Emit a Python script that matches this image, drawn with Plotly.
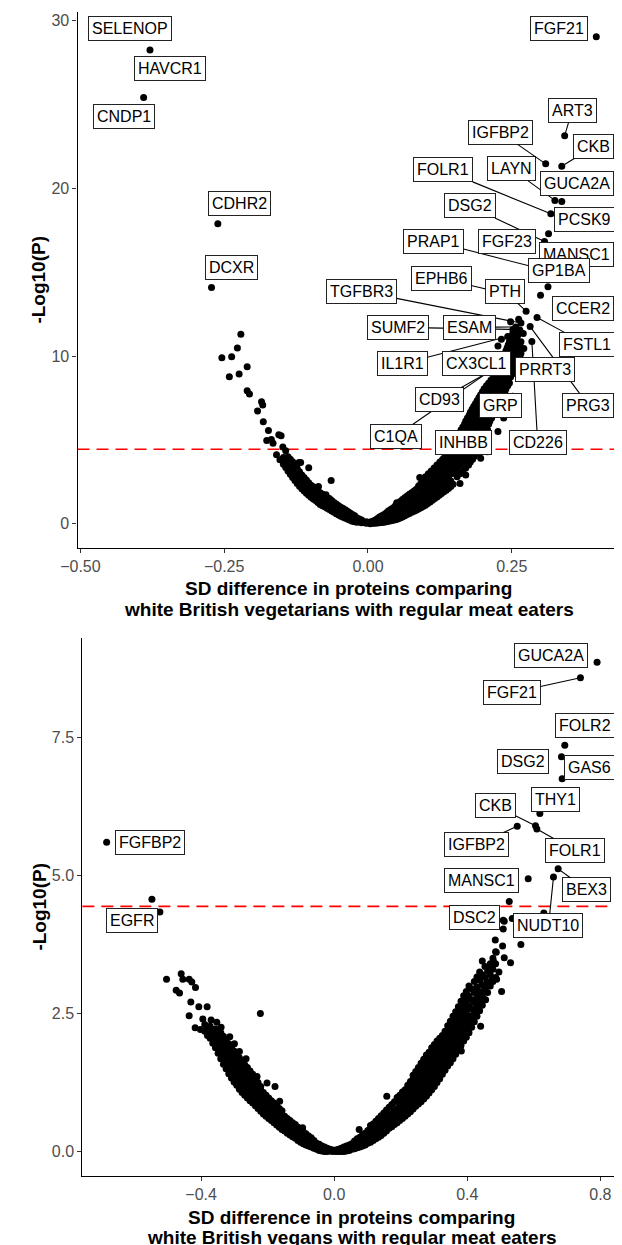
import plotly.graph_objects as go

FONT = "Liberation Sans, Arial, Helvetica, sans-serif"
THRESH = 4.44

# ---------------- TOP PANEL: vegetarians vs regular meat eaters ----------------
# dense band, left arm: column x -> list of -log10(P)
top_left_cols_x = [-0.003, -0.011, -0.019, -0.027, -0.035, -0.043, -0.051, -0.059, -0.067,
                   -0.075, -0.083, -0.091, -0.099, -0.107, -0.115, -0.123, -0.131, -0.139, -0.147]
top_left_cols_y = [[0.02, 0.12], [0.05, 0.22], [0.09, 0.34], [0.15, 0.35, 0.55],
                   [0.27, 0.5, 0.73], [0.38, 0.64, 0.9], [0.52, 0.8, 1.07], [0.68, 0.98, 1.27],
                   [0.85, 1.17, 1.5], [1.0, 1.33, 1.65], [1.15, 1.5, 1.85], [1.38, 1.74, 2.1],
                   [1.58, 1.94, 2.3], [1.82, 2.2, 2.6], [2.08, 2.5, 2.9], [2.4, 2.85, 3.3],
                   [2.75, 3.2, 3.7], [3.15, 3.6, 4.0], [3.55, 3.95]]
top_left_cols2_x = [-0.007, -0.015, -0.023, -0.031, -0.039, -0.047, -0.055, -0.063, -0.071,
                    -0.079, -0.087, -0.095, -0.103, -0.111, -0.119, -0.127, -0.135, -0.143]
top_left_cols2_y = [[0.07], [0.12, 0.28], [0.12, 0.3, 0.48], [0.21, 0.42, 0.64],
                    [0.33, 0.57, 0.81], [0.45, 0.72, 0.98], [0.6, 0.89, 1.17], [0.76, 1.07, 1.38],
                    [0.92, 1.25, 1.57], [1.07, 1.41, 1.75], [1.26, 1.62, 1.97], [1.48, 1.84, 2.2],
                    [1.7, 2.07, 2.45], [1.95, 2.35, 2.75], [2.24, 2.67, 3.1], [2.58, 3.02, 3.5],
                    [2.95, 3.4, 3.85], [3.35, 3.78]]
# dense band, right arm (lower part by columns)
top_right_cols_x = [0.004, 0.012, 0.02, 0.028, 0.036, 0.044, 0.052, 0.06, 0.068, 0.076,
                    0.084, 0.092, 0.1, 0.108, 0.116, 0.124, 0.132, 0.14, 0.148]
top_right_cols_y = [[0.0, 0.1], [0.03, 0.2], [0.06, 0.25, 0.4], [0.09, 0.3, 0.55],
                    [0.14, 0.45, 0.77], [0.2, 0.55, 0.95], [0.28, 0.62, 0.96, 1.2],
                    [0.4, 0.75, 1.1, 1.45], [0.55, 0.9, 1.25, 1.65], [0.68, 1.05, 1.45, 1.85],
                    [0.8, 1.2, 1.6, 2.05], [0.95, 1.35, 1.75, 2.15, 2.4], [1.1, 1.5, 1.9, 2.3, 2.65],
                    [1.3, 1.7, 2.1, 2.5], [1.5, 1.9, 2.3, 2.7], [1.7, 2.05, 2.45], [1.9, 2.25, 2.6],
                    [2.1, 2.45], [2.35]]
top_right_cols2_x = [0.008, 0.016, 0.024, 0.032, 0.04, 0.048, 0.056, 0.064, 0.072, 0.08,
                     0.088, 0.096, 0.104, 0.112, 0.12, 0.128, 0.136, 0.144]
top_right_cols2_y = [[0.02, 0.15], [0.04, 0.22, 0.3], [0.07, 0.28, 0.47], [0.11, 0.37, 0.66],
                     [0.17, 0.5, 0.86], [0.24, 0.58, 0.96, 1.08], [0.34, 0.68, 1.03, 1.32],
                     [0.47, 0.82, 1.17, 1.55], [0.61, 0.97, 1.35, 1.76], [0.74, 1.12, 1.52, 1.95],
                     [0.88, 1.27, 1.67, 2.1, 2.25], [1.02, 1.42, 1.82, 2.22, 2.52],
                     [1.2, 1.6, 2.0, 2.4, 2.75], [1.4, 1.8, 2.2, 2.6], [1.6, 1.97, 2.37, 2.75],
                     [1.8, 2.15, 2.52], [2.0, 2.35, 2.65], [2.22, 2.55]]
# dense band, right arm (upper part by rows): row -log10(P) -> list of x
top_right_rows_y = [2.8, 3.15, 3.5, 3.85, 4.2, 4.55, 4.9, 5.25, 5.6, 5.95, 6.3, 6.65, 7.0,
                    7.35, 7.7, 8.05, 8.4, 8.75, 9.1, 9.45, 9.8, 10.15, 10.5, 10.85, 11.2, 11.55]
top_right_rows_x = [[0.10, 0.11, 0.12, 0.13, 0.14, 0.155], [0.11, 0.12, 0.13, 0.14, 0.15, 0.165],
                    [0.12, 0.13, 0.14, 0.15, 0.16, 0.175], [0.13, 0.14, 0.15, 0.16, 0.17, 0.182],
                    [0.138, 0.148, 0.158, 0.168, 0.178, 0.188], [0.143, 0.153, 0.163, 0.173, 0.183, 0.193],
                    [0.15, 0.16, 0.17, 0.18, 0.19, 0.198], [0.156, 0.166, 0.176, 0.186, 0.196, 0.203],
                    [0.162, 0.172, 0.182, 0.192, 0.202, 0.208], [0.168, 0.178, 0.188, 0.198, 0.21],
                    [0.173, 0.183, 0.193, 0.203, 0.215], [0.178, 0.188, 0.198, 0.208, 0.218],
                    [0.184, 0.194, 0.204, 0.214, 0.224], [0.19, 0.2, 0.21, 0.22, 0.23],
                    [0.196, 0.206, 0.216, 0.226, 0.235], [0.202, 0.212, 0.222, 0.232, 0.24],
                    [0.21, 0.22, 0.23, 0.24, 0.246], [0.218, 0.228, 0.238, 0.248],
                    [0.224, 0.234, 0.244, 0.254], [0.23, 0.24, 0.25, 0.258],
                    [0.235, 0.245, 0.255, 0.262], [0.238, 0.248, 0.258, 0.266],
                    [0.242, 0.252, 0.262], [0.246, 0.256, 0.266], [0.25, 0.26], [0.254, 0.264]]
top_right_rows2_y = [2.975, 3.325, 3.675, 4.025, 4.375, 4.725, 5.075, 5.425, 5.775, 6.125, 6.475,
                     6.825, 7.175, 7.525, 7.875, 8.225, 8.575, 8.925, 9.275, 9.625, 9.975,
                     10.325, 10.675, 11.025, 11.375]
top_right_rows2_x = [[0.105, 0.115, 0.125, 0.135, 0.145, 0.16], [0.115, 0.125, 0.135, 0.145, 0.155, 0.17],
                     [0.125, 0.135, 0.145, 0.155, 0.165, 0.178], [0.134, 0.144, 0.154, 0.164, 0.174, 0.185],
                     [0.14, 0.15, 0.16, 0.17, 0.18, 0.19], [0.147, 0.157, 0.167, 0.177, 0.187, 0.196],
                     [0.153, 0.163, 0.173, 0.183, 0.193, 0.2], [0.159, 0.169, 0.179, 0.189, 0.199, 0.206],
                     [0.165, 0.175, 0.185, 0.195, 0.205], [0.17, 0.18, 0.19, 0.2, 0.212],
                     [0.176, 0.186, 0.196, 0.206, 0.216], [0.181, 0.191, 0.201, 0.211, 0.221],
                     [0.187, 0.197, 0.207, 0.217, 0.227], [0.193, 0.203, 0.213, 0.223, 0.232],
                     [0.199, 0.209, 0.219, 0.229, 0.238], [0.206, 0.216, 0.226, 0.236, 0.243],
                     [0.214, 0.224, 0.234, 0.244], [0.221, 0.231, 0.241, 0.251],
                     [0.227, 0.237, 0.247, 0.256], [0.232, 0.242, 0.252, 0.26],
                     [0.236, 0.246, 0.256, 0.264], [0.24, 0.25, 0.26], [0.244, 0.254, 0.264],
                     [0.248, 0.258], [0.252, 0.262]]
# scattered individual proteins (unlabelled)
top_extra_x = [-0.221, -0.227, -0.254, -0.237, -0.241, -0.224, -0.210, -0.210, -0.206, -0.185,
               -0.183, -0.192, -0.182, -0.173, -0.155, -0.151, -0.176, -0.168, -0.165, -0.148,
               -0.159, -0.153, -0.117, -0.064, -0.143, -0.134, -0.120, -0.103, -0.086, -0.073,
               0.205, 0.212, 0.226, 0.232, 0.262, 0.248, 0.270, 0.272, 0.268, 0.252, 0.236,
               0.226, 0.208, 0.196, 0.170, 0.160, 0.090, 0.050, 0.115]
top_extra_y = [11.31, 10.49, 9.90, 9.96, 8.77, 8.93, 9.36, 7.93, 7.74, 7.28,
               7.08, 6.73, 6.09, 5.56, 5.30, 5.24, 4.96, 5.02, 4.80, 4.57,
               4.11, 3.81, 3.65, 2.58, 4.35, 3.62, 3.65, 3.34, 2.22, 1.73,
               9.2, 9.7, 10.6, 11.0, 12.2, 12.05, 11.35, 9.6, 8.7, 7.6, 6.3,
               5.5, 4.3, 3.9, 2.9, 2.4, 2.75, 1.25, 3.2]
# labelled proteins
top_names = ["SELENOP", "HAVCR1", "CNDP1", "CDHR2", "DCXR", "FGF21", "ART3", "IGFBP2", "CKB",
             "LAYN", "GUCA2A", "FOLR1", "PCSK9", "DSG2", "MANSC1", "PRAP1", "FGF23", "GP1BA",
             "EPHB6", "PTH", "CCER2", "FSTL1", "TGFBR3", "SUMF2", "ESAM", "PRG3", "IL1R1",
             "CD226", "PRRT3", "CX3CL1", "CD93", "C1QA", "GRP", "INHBB"]
top_sd = [-0.455, -0.379, -0.390, -0.261, -0.272, 0.397, 0.342, 0.309, 0.337,
          0.325, 0.337, 0.318, 0.314, 0.307, 0.310, 0.285, 0.295, 0.313,
          0.255, 0.275, 0.300, 0.294, 0.266, 0.252, 0.257, 0.282, 0.243,
          0.285, 0.271, 0.250, 0.233, 0.237, 0.215, 0.236]
top_logp = [29.45, 28.27, 25.43, 17.9, 14.09, 29.05, 23.15, 21.47, 21.33,
            19.29, 19.23, 18.49, 17.30, 16.83, 16.0, 15.34, 15.0, 14.13,
            13.6, 12.68, 13.63, 12.30, 11.97, 11.59, 11.74, 11.76, 11.17,
            10.87, 10.46, 10.1, 9.5, 9.7, 7.3, 7.2]

# ---------------- BOTTOM PANEL: vegans vs regular meat eaters ----------------
bot_left_cols_x = [-0.005, -0.021, -0.037, -0.053, -0.069, -0.085, -0.101, -0.117, -0.133,
                   -0.149, -0.165, -0.181, -0.197, -0.213, -0.229, -0.245, -0.261, -0.277,
                   -0.293, -0.309, -0.325, -0.341, -0.357, -0.373, -0.389]
bot_left_cols_y = [[0.0, 0.03], [0.0, 0.06], [0.01, 0.1], [0.04, 0.15], [0.08, 0.18, 0.25],
                   [0.12, 0.22, 0.32], [0.17, 0.28, 0.4], [0.24, 0.36, 0.49], [0.3, 0.42, 0.56],
                   [0.37, 0.5, 0.64], [0.44, 0.57, 0.72, 0.78], [0.52, 0.65, 0.79, 0.88],
                   [0.6, 0.73, 0.86, 0.97], [0.68, 0.81, 0.94, 1.07],
                   [0.78, 0.9, 1.03, 1.17, 1.25], [0.88, 1.0, 1.13, 1.27, 1.4],
                   [0.97, 1.1, 1.24, 1.38, 1.52], [1.07, 1.2, 1.34, 1.48, 1.62],
                   [1.2, 1.33, 1.47, 1.62, 1.77], [1.33, 1.47, 1.6, 1.74, 1.88],
                   [1.5, 1.63, 1.77, 1.9, 2.02], [1.68, 1.8, 1.93, 2.06, 2.15],
                   [1.88, 2.0, 2.12, 2.22], [2.05, 2.16, 2.27], [2.18, 2.3]]
bot_left_cols2_x = [-0.013, -0.029, -0.045, -0.061, -0.077, -0.093, -0.109, -0.125, -0.141,
                    -0.157, -0.173, -0.189, -0.205, -0.221, -0.237, -0.253, -0.269, -0.285,
                    -0.301, -0.317, -0.333, -0.349, -0.365, -0.381]
bot_left_cols2_y = [[0.01, 0.04], [0.0, 0.05, 0.08], [0.02, 0.08, 0.13], [0.06, 0.13, 0.2],
                    [0.1, 0.2, 0.28], [0.14, 0.25, 0.36], [0.2, 0.32, 0.44], [0.27, 0.39, 0.52],
                    [0.33, 0.46, 0.6], [0.4, 0.53, 0.67, 0.74], [0.48, 0.61, 0.75, 0.83],
                    [0.56, 0.69, 0.82, 0.92], [0.64, 0.77, 0.9, 1.02],
                    [0.73, 0.85, 0.98, 1.12, 1.18], [0.83, 0.95, 1.08, 1.22, 1.33],
                    [0.92, 1.05, 1.18, 1.32, 1.46], [1.02, 1.15, 1.29, 1.43, 1.57],
                    [1.13, 1.26, 1.4, 1.55, 1.7], [1.26, 1.4, 1.53, 1.68, 1.82],
                    [1.41, 1.55, 1.68, 1.82, 1.95], [1.58, 1.7, 1.84, 1.98, 2.09],
                    [1.78, 1.9, 2.02, 2.13, 2.19], [1.96, 2.08, 2.2], [2.1, 2.22]]
bot_right_cols_x = [0.005, 0.021, 0.037, 0.053, 0.069, 0.085, 0.101, 0.117, 0.133, 0.149,
                    0.165, 0.181, 0.197, 0.213, 0.229, 0.245, 0.261, 0.277, 0.293, 0.309,
                    0.325, 0.341, 0.357, 0.373, 0.389, 0.405, 0.421, 0.437, 0.453, 0.469, 0.485]
bot_right_cols_y = [[0.0, 0.03], [0.0, 0.06], [0.01, 0.1], [0.04, 0.14], [0.07, 0.16, 0.23],
                    [0.1, 0.2, 0.3], [0.15, 0.25, 0.38], [0.2, 0.32, 0.45, 0.5],
                    [0.26, 0.37, 0.48, 0.6], [0.33, 0.44, 0.56, 0.7], [0.42, 0.53, 0.65, 0.8],
                    [0.49, 0.61, 0.74, 0.9], [0.56, 0.68, 0.82, 0.96, 1.02],
                    [0.64, 0.76, 0.9, 1.03, 1.12], [0.72, 0.85, 0.98, 1.12, 1.27],
                    [0.82, 0.95, 1.08, 1.22, 1.36, 1.45], [0.9, 1.03, 1.17, 1.32, 1.47, 1.6],
                    [1.0, 1.13, 1.27, 1.42, 1.58, 1.75], [1.12, 1.26, 1.4, 1.55, 1.7, 1.88],
                    [1.25, 1.39, 1.53, 1.68, 1.84, 2.0], [1.4, 1.53, 1.67, 1.82, 1.97, 2.1],
                    [1.55, 1.68, 1.82, 1.97, 2.12, 2.28], [1.68, 1.82, 1.97, 2.12, 2.28, 2.45],
                    [1.85, 1.99, 2.14, 2.3, 2.47, 2.62], [2.0, 2.15, 2.3, 2.47, 2.65, 2.82],
                    [2.15, 2.3, 2.46, 2.63, 2.82, 3.0], [2.35, 2.52, 2.7, 2.88, 3.08],
                    [2.55, 2.72, 2.9, 3.1, 3.25], [2.75, 2.95, 3.15, 3.35], [3.0, 3.2, 3.4],
                    [3.15, 3.4, 3.62]]
bot_right_cols2_x = [0.013, 0.029, 0.045, 0.061, 0.077, 0.093, 0.109, 0.125, 0.141, 0.157,
                     0.173, 0.189, 0.205, 0.221, 0.237, 0.253, 0.269, 0.285, 0.301, 0.317,
                     0.333, 0.349, 0.365, 0.381, 0.397, 0.413, 0.429, 0.445, 0.461, 0.477]
bot_right_cols2_y = [[0.0, 0.04], [0.0, 0.04, 0.08], [0.02, 0.07, 0.12], [0.05, 0.12, 0.19],
                     [0.08, 0.17, 0.26], [0.12, 0.22, 0.33], [0.17, 0.28, 0.4, 0.47],
                     [0.23, 0.34, 0.46, 0.55], [0.29, 0.4, 0.52, 0.65], [0.37, 0.48, 0.6, 0.75],
                     [0.45, 0.57, 0.69, 0.85], [0.52, 0.64, 0.78, 0.92, 0.98],
                     [0.6, 0.72, 0.86, 1.0, 1.08], [0.68, 0.8, 0.94, 1.07, 1.2],
                     [0.77, 0.9, 1.03, 1.17, 1.31, 1.38], [0.86, 0.99, 1.12, 1.27, 1.42, 1.52],
                     [0.95, 1.08, 1.22, 1.37, 1.52, 1.67], [1.06, 1.19, 1.33, 1.48, 1.64, 1.8],
                     [1.18, 1.32, 1.46, 1.61, 1.77, 1.94], [1.32, 1.46, 1.6, 1.75, 1.9, 2.05],
                     [1.47, 1.6, 1.74, 1.89, 2.04, 2.18], [1.61, 1.75, 1.89, 2.04, 2.2, 2.36],
                     [1.76, 1.9, 2.05, 2.21, 2.37, 2.53], [1.92, 2.07, 2.22, 2.38, 2.56, 2.72],
                     [2.07, 2.22, 2.38, 2.55, 2.73, 2.9], [2.25, 2.41, 2.58, 2.75, 2.95],
                     [2.45, 2.62, 2.8, 2.98, 3.16], [2.65, 2.83, 3.02, 3.2], [2.88, 3.07, 3.27],
                     [3.08, 3.3, 3.5]]
bot_extra_x = [-0.504, -0.460, -0.455, -0.436, -0.428, -0.417, -0.475, -0.465, -0.431, -0.407,
               -0.382, -0.436, -0.418, -0.402, -0.314, -0.285, -0.232, -0.202, -0.178, -0.164,
               -0.095, -0.353, -0.222, -0.370, -0.395, -0.340, -0.300, -0.265, -0.524,
               0.526, 0.630, 0.511, 0.535, 0.508, 0.484, 0.506, 0.561, 0.487, 0.511, 0.530,
               0.464, 0.474, 0.488, 0.459, 0.503, 0.495, 0.478, 0.445, 0.455, 0.440, 0.382,
               0.342, 0.158, 0.075]
bot_extra_y = [3.12, 3.22, 3.12, 3.12, 3.07, 2.97, 2.92, 2.87, 2.71, 2.62,
               2.62, 2.46, 2.24, 2.21, 2.08, 1.81, 1.36, 1.24, 1.18, 0.91,
               0.43, 2.34, 2.50, 2.38, 2.40, 2.25, 1.95, 1.68, 4.34,
               4.53, 4.32, 4.17, 4.22, 4.03, 3.83, 3.72, 3.75, 3.61, 3.51, 3.42,
               3.30, 3.12, 3.12, 3.06, 2.90, 3.25, 3.45, 3.45, 2.75, 2.27, 1.82,
               1.58, 1.00, 0.40]
bot_names = ["GUCA2A", "FGF21", "FOLR2", "DSG2", "GAS6", "THY1", "CKB", "IGFBP2", "FOLR1",
             "MANSC1", "BEX3", "DSC2", "NUDT10", "FGFBP2", "EGFR"]
bot_sd = [0.790, 0.740, 0.693, 0.683, 0.685, 0.618, 0.605, 0.550, 0.609,
          0.583, 0.673, 0.508, 0.659, -0.684, -0.548]
bot_logp = [8.86, 8.58, 7.36, 7.15, 6.75, 6.12, 5.90, 5.89, 5.84,
            4.94, 5.12, 4.19, 4.97, 5.60, 4.57]

# ---------------- label placement (repelled label centres) ----------------
top_label_pos = {
    "SELENOP": (-0.414, 29.52), "HAVCR1": (-0.344, 27.16), "CNDP1": (-0.425, 24.30),
    "CDHR2": (-0.224, 19.08), "DCXR": (-0.237, 15.27), "FGF21": (0.332, 29.52),
    "ART3": (0.355, 24.66), "IGFBP2": (0.230, 23.35), "CKB": (0.392, 22.51),
    "LAYN": (0.250, 21.17), "GUCA2A": (0.364, 20.30), "FOLR1": (0.131, 21.11),
    "PCSK9": (0.376, 18.13), "DSG2": (0.177, 18.96), "MANSC1": (0.363, 16.04),
    "PRAP1": (0.114, 16.85), "FGF23": (0.242, 16.85), "GP1BA": (0.333, 15.12),
    "EPHB6": (0.127, 14.64), "PTH": (0.238, 13.86), "TGFBR3": (-0.011, 13.86),
    "CCER2": (0.374, 12.85), "FSTL1": (0.380, 10.70), "SUMF2": (0.052, 11.72),
    "ESAM": (0.176, 11.72), "IL1R1": (0.060, 9.54), "CX3CL1": (0.188, 9.54),
    "PRRT3": (0.308, 9.21), "PRG3": (0.383, 7.07), "CD226": (0.295, 4.86),
    "CD93": (0.125, 7.39), "GRP": (0.230, 7.07), "INHBB": (0.166, 4.86), "C1QA": (0.048, 5.22),
}
top_segments = {"ART3", "IGFBP2", "CKB", "LAYN", "FOLR1", "DSG2", "PRAP1", "EPHB6", "PTH",
                "TGFBR3", "FSTL1", "SUMF2", "ESAM", "IL1R1", "PRG3", "CD226", "CD93",
                "INHBB", "C1QA"}
top_draw_order = ["PRAP1", "LAYN", "EPHB6", "SUMF2", "IL1R1", "C1QA", "CD93", "INHBB",
                  "TGFBR3", "ART3", "IGFBP2", "CKB", "FOLR1", "DSG2", "PTH", "FSTL1", "ESAM",
                  "PRG3", "CD226", "SELENOP", "HAVCR1", "CNDP1", "CDHR2", "DCXR", "FGF21",
                  "GUCA2A", "PCSK9", "MANSC1", "FGF23", "GP1BA", "CCER2", "CX3CL1", "PRRT3", "GRP"]
bot_label_pos = {
    "GUCA2A": (0.651, 8.98), "FGF21": (0.534, 8.31), "FOLR2": (0.753, 7.71),
    "DSG2": (0.568, 7.06), "GAS6": (0.766, 6.95), "THY1": (0.664, 6.38),
    "CKB": (0.486, 6.26), "IGFBP2": (0.429, 5.56), "FOLR1": (0.723, 5.45),
    "MANSC1": (0.444, 4.91), "BEX3": (0.759, 4.74), "DSC2": (0.422, 4.23),
    "NUDT10": (0.644, 4.09), "FGFBP2": (-0.553, 5.59), "EGFR": (-0.607, 4.19),
}
bot_segments = {"FGF21", "CKB", "IGFBP2", "FOLR1", "BEX3", "NUDT10"}
bot_draw_order = ["FGF21", "CKB", "IGFBP2", "FOLR1", "BEX3", "NUDT10", "GUCA2A", "FOLR2",
                  "DSG2", "GAS6", "THY1", "MANSC1", "DSC2", "FGFBP2", "EGFR"]


def from_cols(cx, cy):
    xs, ys = [], []
    for x, col in zip(cx, cy):
        for y in col:
            xs.append(x)
            ys.append(y)
    return xs, ys


def from_rows(ry, rx):
    xs, ys = [], []
    for y, row in zip(ry, rx):
        for x in row:
            xs.append(x)
            ys.append(y)
    return xs, ys


tx, ty = [], []
for a, b in [from_cols(top_left_cols_x, top_left_cols_y),
             from_cols(top_left_cols2_x, top_left_cols2_y),
             from_cols(top_right_cols_x, top_right_cols_y),
             from_cols(top_right_cols2_x, top_right_cols2_y),
             from_rows(top_right_rows_y, top_right_rows_x),
             from_rows(top_right_rows2_y, top_right_rows2_x),
             (top_extra_x, top_extra_y), (top_sd, top_logp)]:
    tx += list(a)
    ty += list(b)

bx, by = [], []
for a, b in [from_cols(bot_left_cols_x, bot_left_cols_y),
             from_cols(bot_left_cols2_x, bot_left_cols2_y),
             from_cols(bot_right_cols_x, bot_right_cols_y),
             from_cols(bot_right_cols2_x, bot_right_cols2_y),
             (bot_extra_x, bot_extra_y), (bot_sd, bot_logp)]:
    bx += list(a)
    by += list(b)

fig = go.Figure()
marker = dict(color="black", size=7, line=dict(width=0))
fig.add_trace(go.Scatter(x=tx, y=ty, mode="markers", marker=marker, xaxis="x", yaxis="y",
                         showlegend=False, hoverinfo="skip"))
fig.add_trace(go.Scatter(x=bx, y=by, mode="markers", marker=marker, xaxis="x2", yaxis="y2",
                         showlegend=False, hoverinfo="skip"))

label_style = dict(font=dict(family=FONT, size=16, color="black"), bgcolor="white",
                   bordercolor="#222222", borderwidth=1, borderpad=3)


def add_labels(names, sd, logp, pos, segs, order, xr, yr):
    pt = {n: (x, y) for n, x, y in zip(names, sd, logp)}
    for n in order:
        px, py = pt[n]
        lx, ly = pos[n]
        if n in segs:
            fig.add_annotation(x=px, y=py, ax=lx, ay=ly, xref=xr, yref=yr, axref=xr, ayref=yr,
                               text=n, showarrow=True, arrowhead=0, arrowwidth=1.1,
                               arrowcolor="black", standoff=0, startstandoff=0, **label_style)
        else:
            fig.add_annotation(x=lx, y=ly, xref=xr, yref=yr, text=n, showarrow=False,
                               **label_style)


add_labels(top_names, top_sd, top_logp, top_label_pos, top_segments, top_draw_order, "x", "y")
add_labels(bot_names, bot_sd, bot_logp, bot_label_pos, bot_segments, bot_draw_order, "x2", "y2")

# significance thresholds
for yr, xr in [("y", "x"), ("y2", "x2")]:
    fig.add_shape(type="line", xref=xr + " domain", yref=yr, x0=0, x1=1, y0=THRESH, y1=THRESH,
                  line=dict(color="#FF0000", width=1.6, dash="12px,7px"), layer="below")

# the page body has an 8px default margin, so lay out in page pixels minus that offset
OFF = 8
W, H = 622 - OFF, 1245 - OFF


def fx(px):
    return (px - OFF) / W


def fy(py):
    return 1 - (py - OFF) / H


axis_common = dict(showline=True, linecolor="black", linewidth=1.1, ticks="outside", ticklen=4,
                   tickwidth=1.1, tickcolor="#333333", showgrid=False, zeroline=False,
                   tickfont=dict(family=FONT, size=16, color="#4D4D4D"), mirror=False)

fig.update_layout(
    width=W, height=H, autosize=False,
    margin=dict(l=0, r=0, t=0, b=0, pad=0),
    paper_bgcolor="white", plot_bgcolor="white",
    xaxis=dict(domain=[fx(62), fx(621)], anchor="y", range=[-0.505, 0.440],
               tickvals=[-0.5, -0.25, 0.0, 0.25], tickformat=".2f", **axis_common),
    yaxis=dict(domain=[fy(548), fy(12)], anchor="x", range=[-1.45, 30.53],
               tickvals=[0, 10, 20, 30], **axis_common),
    xaxis2=dict(domain=[fx(67), fx(621)], anchor="y2", range=[-0.757, 0.862],
                tickvals=[-0.4, 0.0, 0.4, 0.8], tickformat=".1f", **axis_common),
    yaxis2=dict(domain=[fy(1176), fy(638)], anchor="x2", range=[-0.443, 9.30],
                tickvals=[0, 2.5, 5.0, 7.5], tickformat=".1f", **axis_common),
)

# axis titles
title_font = dict(family=FONT, size=19, color="black")
titles = [
    ("SD difference in proteins comparing", 341, 588),
    ("white British vegetarians with regular meat eaters", 341, 609),
    ("SD difference in proteins comparing", 344, 1217),
    ("white British vegans with regular meat eaters", 344, 1237),
]
for txt, px, py in titles:
    fig.add_annotation(x=fx(px), y=fy(py), xref="paper", yref="paper", text="<b>" + txt + "</b>",
                       showarrow=False, xanchor="center", yanchor="middle", font=title_font)
for py in [280, 907]:
    fig.add_annotation(x=fx(22), y=fy(py), xref="paper", yref="paper", text="<b>-Log10(P)</b>",
                       showarrow=False, textangle=-90, xanchor="center", yanchor="middle",
                       font=title_font)

fig.write_html("out.html")
